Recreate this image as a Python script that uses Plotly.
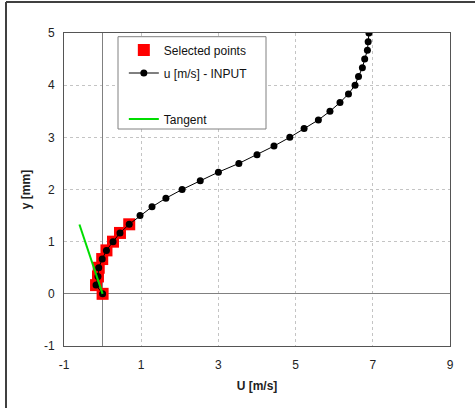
import plotly.graph_objects as go

# Velocity profile (input)
u_input = [0.0, -0.17, -0.12, -0.10, -0.01, 0.10, 0.27, 0.45, 0.69, 0.97, 1.28,
           1.64, 2.06, 2.53, 3.00, 3.53, 4.00, 4.44, 4.85, 5.22, 5.59, 5.89,
           6.15, 6.37, 6.54, 6.63, 6.73, 6.79, 6.86, 6.88, 6.90]
y_input = [0.0, 0.167, 0.333, 0.5, 0.667, 0.833, 1.0, 1.167, 1.333, 1.5, 1.667,
           1.833, 2.0, 2.167, 2.333, 2.5, 2.667, 2.833, 3.0, 3.167, 3.333, 3.5,
           3.667, 3.833, 4.0, 4.167, 4.333, 4.5, 4.667, 4.833, 5.0]

# Selected points (first nine)
u_sel = u_input[:9]
y_sel = y_input[:9]

# Tangent line
u_tan = [0.0, -0.60]
y_tan = [0.0, 1.33]

# Tick labels
x_ticks = [-1, 1, 3, 5, 7, 9]
x_tick_text = ["-1", "1", "3", "5", "7", "9"]
y_ticks = [-1, 0, 1, 2, 3, 4, 5]
y_tick_text = ["-1", "0", "1", "2", "3", "4", "5"]

FONT = "Liberation Sans, Arial, sans-serif"

fig = go.Figure()
fig.add_trace(go.Scatter(x=u_sel, y=y_sel, mode="markers", name="Selected points",
                         legendgroup="a",
                         marker=dict(symbol="square", size=12, color="#ff0000")))
fig.add_trace(go.Scatter(x=u_input, y=y_input, mode="lines+markers", name="u [m/s] - INPUT",
                         legendgroup="b",
                         line=dict(color="black", width=1),
                         marker=dict(symbol="circle", size=7, color="black")))
fig.add_trace(go.Scatter(x=[None], y=[None], mode="lines", name=" ",
                         legendgroup="c",
                         line=dict(color="rgba(0,0,0,0)", width=1)))
fig.add_trace(go.Scatter(x=u_tan, y=y_tan, mode="lines", name="Tangent",
                         legendgroup="d",
                         line=dict(color="#00dd00", width=2)))

axis_common = dict(
    showline=True, linecolor="#555555", linewidth=1, mirror=True,
    showgrid=True, gridcolor="#c4c4c4", griddash="dot", gridwidth=1,
    zeroline=True, zerolinecolor="#808080", zerolinewidth=1,
    ticks="", tickfont=dict(family=FONT, size=12, color="#222222"),
)

fig.update_xaxes(range=[-1, 9], tickmode="array", tickvals=x_ticks, ticktext=x_tick_text,
                 ticklabelstandoff=8,
                 title=dict(text="<b>U [m/s]</b>", font=dict(family=FONT, size=12, color="#222222"),
                            standoff=10),
                 **axis_common)
fig.update_yaxes(range=[-1, 5], tickmode="array", tickvals=y_ticks, ticktext=y_tick_text,
                 ticklabelstandoff=6,
                 title=dict(text="<b>y [mm]</b>", font=dict(family=FONT, size=12, color="#222222"),
                            standoff=10),
                 **axis_common)

fig.update_layout(
    width=475, height=408,
    margin=dict(l=64, r=25, t=33, b=62),
    plot_bgcolor="white", paper_bgcolor="white",
    font=dict(family=FONT, size=12, color="#222222"),
    showlegend=True,
    legend=dict(x=0.155, y=0.992, xanchor="left", yanchor="top",
                bgcolor="rgba(0,0,0,0)", borderwidth=0,
                tracegroupgap=4,
                font=dict(family=FONT, size=12, color="#111111")),
    shapes=[
        # legend box
        dict(type="rect", xref="paper", yref="paper",
             x0=(118 - 64) / 386, x1=(266 - 64) / 386,
             y0=1 - (129 - 33) / 313, y1=1 - (36.7 - 33) / 313,
             line=dict(color="#808080", width=1), fillcolor="white", layer="above"),
        # outer frame
        dict(type="line", xref="paper", yref="paper",
             x0=(6 - 64) / 386, x1=(480 - 64) / 386,
             y0=1 + (33 - 2) / 313, y1=1 + (33 - 2) / 313,
             line=dict(color="#404040", width=2)),
        dict(type="line", xref="paper", yref="paper",
             x0=(6 - 64) / 386, x1=(6 - 64) / 386,
             y0=1 + (33 - 2) / 313, y1=-(420 - 346) / 313,
             line=dict(color="#404040", width=2)),
    ],
)

fig.write_html("out.html")
